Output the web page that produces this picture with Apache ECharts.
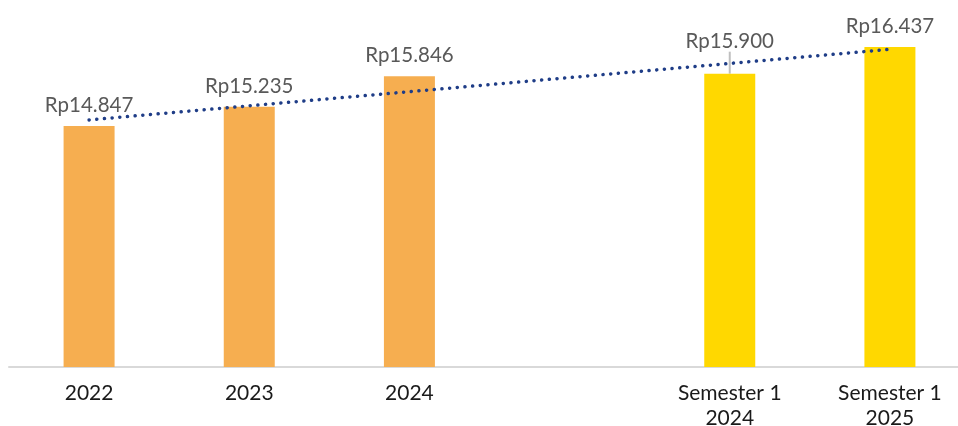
<!DOCTYPE html>
<html><head><meta charset="utf-8">
<script src="https://cdn.jsdelivr.net/npm/echarts@6/dist/echarts.min.js"></script>
<style>html,body{margin:0;padding:0;background:#fff}#c{width:958px;height:426px}</style>
</head><body><div id="c"></div>
<script>
const categories = ['2022', '2023', '2024', '', 'Semester 1\n2024', 'Semester 1\n2025'];
const values = [14847, 15235, 15846, null, 15900, 16437];
const barColors = ['#F6AE50', '#F6AE50', '#F6AE50', '#F6AE50', '#FFD800', '#FFD800'];
const trendValues = [14970, null, null, null, null, 16390];

function fmt(v) {
  return 'Rp' + String(v).replace(/\B(?=(\d{3})+(?!\d))/g, '.');
}

const chart = echarts.init(document.getElementById('c'));
chart.setOption({
  animation: false,
  grid: { left: 9, right: -12, top: 19, bottom: 59, outerBoundsMode: 'none', containLabel: false },
  xAxis: {
    type: 'category',
    data: categories,
    axisTick: { show: false },
    axisLine: { lineStyle: { color: '#d9d9d9', width: 2 } },
    axisLabel: { color: '#1a1a1a', fontFamily: 'Lato', fontSize: 21, lineHeight: 25, margin: 14, interval: 0 }
  },
  yAxis: {
    type: 'value', min: 10000, max: 17000, show: false, splitLine: { show: false }
  },
  series: [
    {
      type: 'bar',
      barWidth: 51,
      data: values.map((v, i) => ({
        value: v,
        itemStyle: { color: barColors[i] },
        labelLine: { show: i === 4, lineStyle: { color: '#bfbfbf', width: 2 } }
      })),
      label: {
        show: true, position: 'top', distance: 10,
        color: '#595959', fontFamily: 'Lato', fontSize: 20.5,
        formatter: p => fmt(p.value)
      },
      labelLayout: function (p) { return p.dataIndex === 4 ? { dy: -12 } : {}; },
      labelLine: { show: false }
    },
    {
      type: 'line',
      data: trendValues,
      connectNulls: true,
      symbol: 'none',
      z: 5,
      lineStyle: { color: '#1F3D87', width: 3.5, type: [0.1, 7.6], cap: 'round' }
    }
  ]
});
</script></body></html>
